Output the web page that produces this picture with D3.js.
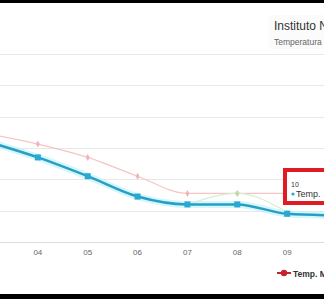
<!DOCTYPE html>
<html lang="en">
<head>
    <meta charset="UTF-8">
    <title></title>
    <style>
        body { margin: 0; background: #fff; overflow: hidden; }
        svg { display: block; font-family: "Liberation Sans", Arial, sans-serif; }
        .grid line { stroke: #e8e8e8; stroke-width: 1; }
        .xaxis text { fill: #666; font-size: 8px; }
    </style>
</head>
<body>

<svg class="chart"></svg>

<script src="https://cdn.jsdelivr.net/npm/d3@7/dist/d3.min.js"></script>

<script>

    var days = ['03','04','05','06','07','08','09','10'];
    var tempMedia = [18.4, 17.4, 16.2, 14.9, 14.4, 14.4, 13.8, 13.7];
    var tempMax = [18.9, 18.25, 17.4, 16.2, 15.1, 15.1, 15.1, 15.0];
    var tempMin = [null, null, null, null, 14.4, 15.1, 13.9, null];
    var yTicks = [12, 14, 16, 18, 20, 22, 24];

    var width = 324, height = 299;

    var svg = d3.select('.chart')
            .attr('width', width)
            .attr('height', height);

    var x = d3.scalePoint()
            .domain(days)
            .range([-12, 337]);

    var y = d3.scaleLinear()
            .domain([12, 24])
            .range([242, 54]);

    // grid
    svg.append('g').attr('class', 'grid')
            .selectAll('line')
            .data(yTicks)
            .enter()
            .append('line')
            .attr('x1', 0).attr('x2', width)
            .attr('y1', function (d) { return Math.round(y(d)) + 0.5; })
            .attr('y2', function (d) { return Math.round(y(d)) + 0.5; });

    svg.append('line')
            .attr('x1', 0).attr('x2', width)
            .attr('y1', Math.round(y(12)) + 0.5).attr('y2', Math.round(y(12)) + 0.5)
            .attr('stroke', '#dcdcdc');

    // x labels (only those inside the visible crop)
    svg.append('g').attr('class', 'xaxis')
            .selectAll('text')
            .data(days.filter(function (d) { return x(d) > 10 && x(d) < width - 10; }))
            .enter()
            .append('text')
            .attr('x', function (d) { return x(d); })
            .attr('y', 255)
            .attr('text-anchor', 'middle')
            .text(function (d) { return d; });

    // title area
    svg.append('rect').attr('x', 269).attr('y', 15).attr('width', 60).attr('height', 34).attr('fill', '#fbfbfb');
    svg.append('text').attr('x', 274).attr('y', 30)
            .attr('fill', '#333').style('font-size', '12px')
            .text('Instituto N');
    svg.append('text').attr('x', 274).attr('y', 45)
            .attr('fill', '#666').style('font-size', '8.5px')
            .text('Temperatura');

    function lineFor(values) {
        return d3.line()
                .defined(function (d) { return d != null; })
                .x(function (d, i) { return x(days[i]); })
                .y(function (d) { return y(d); })
                .curve(d3.curveMonotoneX)(values);
    }

    function pts(values) {
        return values.map(function (v, i) { return {d: days[i], v: v}; })
                .filter(function (p) { return p.v != null; });
    }

    // max series (faded pink)
    svg.append('path').attr('d', lineFor(tempMax))
            .attr('fill', 'none').attr('stroke', '#f6c4c4').attr('stroke-width', 1.2);
    svg.selectAll('.pmax').data(pts(tempMax)).enter().append('path')
            .attr('class', 'pmax')
            .attr('transform', function (p) { return 'translate(' + x(p.d) + ',' + y(p.v) + ')'; })
            .attr('d', d3.symbol(d3.symbolDiamond, 14))
            .attr('fill', '#f2b4bc');

    // min series (faded green)
    svg.append('path').attr('d', lineFor(tempMin))
            .attr('fill', 'none').attr('stroke', '#d8eecc').attr('stroke-width', 1.2);
    svg.selectAll('.pmin').data(pts(tempMin)).enter().append('circle')
            .attr('class', 'pmin')
            .attr('cx', function (p) { return x(p.d); })
            .attr('cy', function (p) { return y(p.v); })
            .attr('r', 2.2)
            .attr('fill', '#c2dcaa');

    // media series (hovered, with halo)
    svg.append('path').attr('d', lineFor(tempMedia))
            .attr('fill', 'none').attr('stroke', '#b4f2fb').attr('stroke-width', 7).attr('opacity', 0.6);
    svg.append('path').attr('d', lineFor(tempMedia))
            .attr('fill', 'none').attr('stroke', '#2a9ec2').attr('stroke-width', 2.5);
    svg.selectAll('.pmed').data(pts(tempMedia)).enter().append('rect')
            .attr('class', 'pmed')
            .attr('x', function (p) { return x(p.d) - 3; })
            .attr('y', function (p) { return y(p.v) - 3; })
            .attr('width', 6).attr('height', 6)
            .attr('fill', '#2aa8d2');

    // tooltip
    svg.append('rect').attr('x', 285).attr('y', 170).attr('width', 45).attr('height', 33)
            .attr('fill', '#fff').attr('stroke', '#e01b24').attr('stroke-width', 4);
    svg.append('text').attr('x', 291).attr('y', 187)
            .attr('fill', '#333').style('font-size', '7px').text('10');
    svg.append('circle').attr('cx', 293).attr('cy', 194).attr('r', 1.6).attr('fill', '#2aa8d2');
    svg.append('text').attr('x', 296).attr('y', 197)
            .attr('fill', '#333').style('font-size', '9px').text('Temp.');

    // legend
    svg.append('line').attr('x1', 277).attr('x2', 291).attr('y1', 273).attr('y2', 273)
            .attr('stroke', '#c4242c').attr('stroke-width', 2);
    svg.append('circle').attr('cx', 284).attr('cy', 273).attr('r', 3.2).attr('fill', '#c4242c');
    svg.append('text').attr('x', 293).attr('y', 276.5)
            .attr('fill', '#333').style('font-size', '8.5px').style('font-weight', 'bold')
            .text('Temp. M');

    // black bars of the screenshot
    svg.append('rect').attr('x', 0).attr('y', 0).attr('width', width).attr('height', 3).attr('fill', '#000');
    svg.append('rect').attr('x', 0).attr('y', 294).attr('width', width).attr('height', 5).attr('fill', '#000');

</script>

</body>
</html>
